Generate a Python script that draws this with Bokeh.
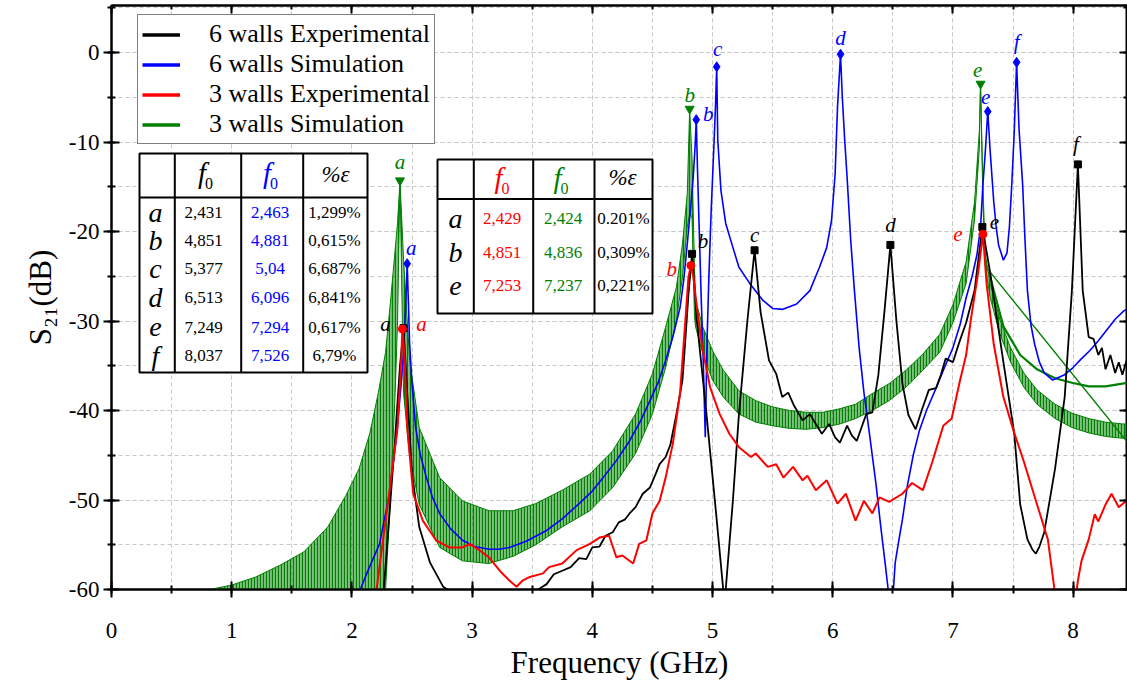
from bokeh.plotting import figure
from bokeh.models import (ColumnDataSource, Range1d, LinearAxis, SingleIntervalTicker,
                          Legend, LegendItem, CustomJSTickFormatter)
from bokeh.core.properties import value
from bokeh.embed import file_html
from bokeh.resources import INLINE

# ---------------- data ----------------
black_f = [2.26, 2.31, 2.36, 2.40, 2.43, 2.46, 2.50, 2.56, 2.65, 2.76, 2.85, 3.45, 3.55, 3.62, 3.68, 3.75,
           3.82, 3.89, 3.95, 4.00, 4.06, 4.11, 4.17, 4.22, 4.27, 4.31, 4.36, 4.42, 4.48, 4.53, 4.56, 4.61,
           4.65, 4.70, 4.75, 4.77, 4.80, 4.83, 4.87, 4.95, 5.03, 5.09, 5.11, 5.17, 5.22, 5.29, 5.35, 5.40,
           5.47, 5.53, 5.58, 5.63, 5.68, 5.75, 5.81, 5.86, 5.91, 5.97, 6.02, 6.06, 6.12, 6.16, 6.20, 6.25,
           6.28, 6.33, 6.38, 6.43, 6.48, 6.53, 6.58, 6.63, 6.69, 6.74, 6.80, 6.86, 6.90, 6.94, 7.00, 7.05,
           7.11, 7.18, 7.245, 7.31, 7.42, 7.51, 7.56, 7.62, 7.66, 7.69, 7.72, 7.76, 7.85, 7.93, 7.99, 8.04,
           8.08, 8.13, 8.17, 8.21, 8.24, 8.27, 8.31, 8.35, 8.38, 8.41, 8.45, 8.50]
black_db = [-61, -52, -43, -35, -30.8, -38, -47, -53, -57, -59.7, -60.5, -61, -60, -59.4, -58.3, -57.9,
            -57.5, -56.5, -56.6, -55.3, -55.2, -54, -53.6, -52.5, -52.2, -51.5, -50.8, -49.3, -48.6, -47, -46, -45.2,
            -43.8, -40.4, -36.6, -32.9, -27, -22.5, -30, -40.4, -51.5, -60.1, -60, -50, -40.4, -30, -22.1, -29,
            -34.4, -35.9, -38.5, -38, -39.5, -41.1, -40.4, -41.5, -42.6, -41.5, -43, -43.6, -41.7, -42.8, -43.4, -41.5,
            -40.4, -40.2, -36, -29, -21.5, -30, -37, -40.5, -42.1, -40, -37.7, -37.5, -36, -34.2, -34.6, -32.5,
            -30.2, -26.6, -19.5, -24.6, -34.6, -42.5, -50.5, -54.4, -55.5, -56.0, -55.2, -53.6, -46.5, -38.5, -26.6, -12.5,
            -26.6, -31.8, -32, -33.8, -33, -35.4, -33.8, -35.8, -34.6, -36, -34.2, -34.2]

blue_f = [2.04, 2.13, 2.23, 2.31, 2.37, 2.41, 2.43, 2.44, 2.45, 2.46, 2.47, 2.48, 2.50, 2.53, 2.57, 2.62,
          2.67, 2.73, 2.82, 2.92, 3.02, 3.14, 3.22, 3.31, 3.45, 3.62, 3.75, 3.89, 4.00, 4.09, 4.20, 4.31,
          4.40, 4.48, 4.55, 4.61, 4.67, 4.73, 4.76, 4.79, 4.82, 4.84, 4.855, 4.865, 4.875, 4.89, 4.905, 4.92,
          4.94, 4.955, 4.97, 4.99, 5.01, 5.025, 5.035, 5.044, 5.07, 5.11, 5.17, 5.22, 5.31, 5.42, 5.50, 5.585,
          5.70, 5.81, 5.89, 5.95, 5.99, 6.02, 6.04, 6.065, 6.08, 6.10, 6.12, 6.15, 6.18, 6.22, 6.26, 6.30,
          6.36, 6.40, 6.44, 6.47, 6.50, 6.52, 6.55, 6.58, 6.62, 6.67, 6.72, 6.78, 6.86, 6.93, 7.00, 7.06,
          7.11, 7.16, 7.20, 7.23, 7.25, 7.27, 7.29, 7.31, 7.34, 7.36, 7.38, 7.42, 7.45, 7.47, 7.49, 7.51,
          7.53, 7.55, 7.58, 7.60, 7.62, 7.65, 7.68, 7.72, 7.76, 7.83, 7.93, 8.00, 8.07, 8.14, 8.21, 8.28,
          8.35, 8.42, 8.50]
blue_db = [-61, -58, -54.9, -49.5, -43, -37, -33.5, -30.7, -27.5, -23.6, -28, -32.5, -37, -41.9, -45, -47.5,
           -49.7, -51.5, -53.2, -54.5, -55.2, -55.5, -55.5, -55.3, -54.6, -53.4, -52.1, -50.4, -49, -47.5, -45.6, -43.4,
           -41.2, -38.9, -36.8, -34.4, -31.8, -28.5, -25.5, -21.4, -17, -13.9, -10.5, -7.5, -13, -20, -27, -33,
           -43, -32, -25, -17.3, -11, -6, -1.6, -9.8, -15.4, -19.1, -21.8, -24, -25.8, -27.7, -28.6, -28.7,
           -28.1, -26.6, -24, -21.8, -18.8, -13.6, -6.1, -0.2, -5, -9.8, -14, -21, -26.5, -33, -38, -42,
           -48.2, -53, -57.5, -61, -61, -57, -54.5, -52.2, -48.5, -45, -42.3, -40, -37.5, -35.2, -33, -30.4,
           -27.4, -25, -22.6, -19.5, -14.7, -11, -6.6, -11, -16.7, -19.5, -21.5, -23.2, -22.4, -19.5, -14.7, -9,
           -1.1, -8.5, -14.7, -21, -26.6, -30.5, -32.6, -34.6, -35.8, -36.6, -36.0, -35.2, -34.2, -33.3, -32.2, -31,
           -29.8, -28.9, -28.2]

red_f = [2.20, 2.31, 2.38, 2.41, 2.42, 2.44, 2.46, 2.51, 2.59, 2.70, 2.81, 2.92, 2.98, 3.06, 3.14, 3.23,
         3.31, 3.37, 3.42, 3.48, 3.59, 3.64, 3.75, 3.87, 3.98, 4.06, 4.14, 4.20, 4.25, 4.34, 4.39, 4.45,
         4.50, 4.56, 4.61, 4.67, 4.73, 4.77, 4.80, 4.82, 4.84, 4.88, 4.92, 4.98, 5.06, 5.14, 5.22, 5.32,
         5.36, 5.46, 5.53, 5.59, 5.67, 5.75, 5.79, 5.86, 5.95, 6.04, 6.11, 6.19, 6.26, 6.33, 6.39, 6.47,
         6.58, 6.66, 6.75, 6.83, 6.92, 6.99, 7.06, 7.11, 7.15, 7.21, 7.25, 7.28, 7.34, 7.42, 7.51, 7.59,
         7.70, 7.79, 7.85, 8.02, 8.04, 8.07, 8.13, 8.18, 8.21, 8.27, 8.32, 8.38, 8.44, 8.50]
red_db = [-60.5, -49.3, -41.9, -34.4, -30.9, -34.4, -41.9, -49.3, -52.3, -54.5, -55.3, -55.3, -54.9, -55.6, -56.4, -57.9,
          -59, -59.7, -59, -58.6, -58.2, -57.5, -57.1, -55.6, -54.9, -54.2, -54, -56.4, -56.2, -57.1, -54.9, -54.5,
          -51.5, -50.1, -47.5, -43.7, -38.1, -30.7, -25.1, -23.8, -25, -29.6, -33.3, -37.4, -40.4, -42.6, -44.1, -45.2,
          -44.8, -46.3, -46, -47.5, -46.3, -47.8, -47.3, -48.9, -47.8, -50.4, -49.3, -52.3, -50.1, -51.5, -49.7, -50.2,
          -49.3, -48.1, -48.9, -45.7, -41.7, -40.9, -36.6, -33.8, -29.8, -24.6, -20.3, -25.8, -32.6, -38.5, -42.5, -45.7,
          -50.5, -54.4, -60.5, -61, -59, -56.8, -54.4, -51.6, -52.4, -50.5, -49.3, -50.8, -50.1, -49.3]

# 3 walls simulation: dense oscillation, drawn as a band between its envelopes
green_f = [0.82, 1.00, 1.20, 1.40, 1.60, 1.80, 1.95, 2.06, 2.15, 2.22, 2.28, 2.32, 2.36, 2.38, 2.40, 2.43,
           2.48, 2.56, 2.73, 2.92, 3.14, 3.34, 3.53, 3.75, 3.98, 4.17, 4.36, 4.50, 4.61, 4.70, 4.75, 4.79,
           4.81, 4.83, 4.85, 4.86, 4.92, 5.00, 5.09, 5.22, 5.36, 5.50, 5.64, 5.78, 5.92, 6.06, 6.19, 6.33,
           6.47, 6.61, 6.75, 6.89, 7.00, 7.11, 7.18, 7.22, 7.23, 7.25, 7.27, 7.31, 7.39, 7.48, 7.59, 7.70,
           7.85, 7.99, 8.13, 8.27, 8.41, 8.50]
green_hi = [-60, -59.5, -58.6, -57.3, -55.8, -53.0, -49.5, -46.5, -42.5, -38.0, -33.5, -28.0, -22.0, -19.0, -14.3, -23.2,
            -34.4, -41.9, -47.5, -50.1, -51.2, -51.2, -50.4, -48.9, -47.1, -44.5, -40.4, -35.9, -30.7, -26.2, -21.4, -15.8,
            -6.3, -12.0, -24.0, -27.7, -30.7, -33.3, -35.5, -37.8, -38.9, -39.6, -40.0, -40.2, -40.2, -39.8, -39.3, -38.1,
            -37.0, -35.5, -33.7, -31.5, -28.2, -23.4, -16.7, -8.7, -3.5, -15.0, -22.6, -25.8, -29.8, -33.0, -35.8, -37.7,
            -39.3, -40.3, -40.9, -41.3, -41.5, -41.5]
green_lo = [-60, -60, -60, -60, -60, -60, -60, -60, -60, -60, -60, -50, -38, -30, -14.3, -38.1,
            -45.0, -50.5, -55.3, -56.8, -57.1, -56.3, -55.0, -53.0, -51.2, -48.6, -44.8, -40.4, -35.2, -29.9, -25.1, -19.5,
            -18.0, -18.5, -29.5, -30.7, -33.7, -36.6, -38.5, -40.4, -41.3, -41.7, -42.0, -42.1, -41.9, -41.5, -40.9, -40.0,
            -38.9, -37.4, -35.5, -33.5, -30.2, -25.8, -18.7, -10.7, -3.5, -17.0, -24.0, -27.4, -31.4, -34.6, -37.4, -39.3,
            -40.9, -41.9, -42.5, -42.9, -43.1, -43.1]
green2_f = [7.30, 7.34, 7.42, 7.56, 7.70, 7.85, 7.99, 8.13, 8.27, 8.41, 8.50]
green2_db = [-24.5, -26.6, -30.6, -33.8, -35.4, -36.4, -36.9, -37.3, -37.3, -37.0, -36.8]
green3_f = [7.29, 8.45]
green3_db = [-24.2, -43.5]

# peaks (markers and their letters)
black_pk_f = [2.43, 4.83, 5.35, 6.48, 7.245, 8.04]
black_pk_db = [-30.8, -22.5, -22.1, -21.5, -19.5, -12.5]
black_pk_txt = ["a", "b", "c", "d", "e", "f"]
blue_pk_f = [2.46, 4.865, 5.035, 6.065, 7.29, 7.53]
blue_pk_db = [-23.6, -7.5, -1.6, -0.2, -6.6, -1.1]
blue_pk_txt = ["a", "b", "c", "d", "e", "f"]
red_pk_f = [2.42, 4.82, 7.25]
red_pk_db = [-30.9, -23.8, -20.3]
red_pk_txt = ["a", "b", "e"]
green_pk_f = [2.40, 4.81, 7.23]
green_pk_db = [-14.3, -6.3, -3.5]
green_pk_txt = ["a", "b", "e"]

# tables
t1_rows = ["a", "b", "c", "d", "e", "f"]
t1_exp6 = ["2,431", "4,851", "5,377", "6,513", "7,249", "8,037"]
t1_sim6 = ["2,463", "4,881", "5,04", "6,096", "7,294", "7,526"]
t1_err = ["1,299%", "0,615%", "6,687%", "6,841%", "0,617%", "6,79%"]
t2_rows = ["a", "b", "e"]
t2_exp3 = ["2,429", "4,851", "7,253"]
t2_sim3 = ["2,424", "4,836", "7,237"]
t2_err = ["0.201%", "0,309%", "0,221%"]

series_names = ["6 walls Experimental", "6 walls Simulation", "3 walls Experimental", "3 walls Simulation"]

# ---------------- styling / layout ----------------
BLACK, BLUE, RED, GREEN = "#000000", "#0000ff", "#ff0000", "#008000"
FONT = "Liberation Serif"
W, H = 1127, 686
FL, FR, FT, FB = 111, 1127, 5, 589
X0, X1 = 0.0, (FR - FL) / 120.2
Y0, Y1 = -60.0, -60.0 + (FB - FT) / 8.95


def X(px):
    return X0 + (px - FL) * (X1 - X0) / (FR - FL)


def Y(py):
    return Y1 - (py - FT) * (Y1 - Y0) / (FB - FT)


p = figure(width=W, height=H, x_range=Range1d(X0, X1), y_range=Range1d(Y0, Y1),
           output_backend="svg", toolbar_location=None,
           min_border_left=FL, min_border_right=0, min_border_top=FT, min_border_bottom=H - FB,
           x_axis_label="Frequency (GHz)", y_axis_label="S₂₁(dB)")
p.background_fill_color = "white"
p.border_fill_color = "white"
p.outline_line_color = "black"
p.outline_line_width = 2

xt = SingleIntervalTicker(interval=1, num_minor_ticks=2)
yt = SingleIntervalTicker(interval=10, num_minor_ticks=2)
p.xaxis.ticker = xt
p.yaxis.ticker = yt
p.xgrid.ticker = xt
p.ygrid.ticker = yt
for g in (p.xgrid, p.ygrid):
    g.grid_line_color = "#c8c8c8"
    g.grid_line_dash = "4 3"
    g.grid_line_width = 1
    g.minor_grid_line_color = "#c8c8c8"
    g.minor_grid_line_dash = "4 3"
    g.minor_grid_line_width = 1

plain = CustomJSTickFormatter(code="return tick.toFixed(0);")
for ax in (p.xaxis, p.yaxis):
    ax.formatter = plain
    ax.axis_line_width = 2
    ax.major_tick_line_width = 2
    ax.minor_tick_line_width = 2
    ax.major_tick_in = 8
    ax.major_tick_out = 8
    ax.minor_tick_in = 4
    ax.minor_tick_out = 4
    ax.major_label_text_font = FONT
    ax.major_label_text_font_size = "23px"
    ax.major_label_text_color = "black"
    ax.axis_label_text_font = FONT
    ax.axis_label_text_font_size = "31px"
    ax.axis_label_text_font_style = "normal"
    ax.axis_label_text_color = "black"
p.xaxis.major_label_standoff = 25
p.xaxis.axis_label_standoff = 4
p.yaxis.major_label_standoff = 4
p.yaxis.axis_label_standoff = 8

blank = CustomJSTickFormatter(code="return '';")
for loc, tk in (("above", xt), ("right", yt)):
    ax = LinearAxis(ticker=tk, formatter=blank, major_label_standoff=0,
                    major_tick_in=8, major_tick_out=0, minor_tick_in=4, minor_tick_out=0,
                    axis_line_width=2, major_tick_line_width=2, minor_tick_line_width=2)
    p.add_layout(ax, loc)

# ---------------- series ----------------
gsrc = ColumnDataSource(dict(f=green_f, hi=green_hi, lo=green_lo))
p.varea(x="f", y1="lo", y2="hi", source=gsrc, fill_color=GREEN, fill_alpha=0.5,
        hatch_pattern="|", hatch_color=GREEN, hatch_alpha=1.0, hatch_scale=3, hatch_weight=1.2)
p.line("f", "hi", source=gsrc, color=GREEN, line_width=1)
p.line("f", "lo", source=gsrc, color=GREEN, line_width=1)
p.line(green2_f, green2_db, color=GREEN, line_width=2.2)
p.line(green3_f, green3_db, color=GREEN, line_width=1.4)

p.line(blue_f, blue_db, color=BLUE, line_width=1.6)
p.line(black_f, black_db, color=BLACK, line_width=1.8)
p.line(red_f, red_db, color=RED, line_width=2)

# markers
p.scatter(black_pk_f, black_pk_db, marker="square", size=7, color=BLACK)
p.scatter(blue_pk_f, blue_pk_db, marker="diamond", size=10, color=BLUE)
p.scatter(red_pk_f, red_pk_db, marker="circle", size=8, color=RED)
p.scatter(green_pk_f, green_pk_db, marker="inverted_triangle", size=9, color=GREEN)

# peak letters
peak_sets = [
    (black_pk_f, black_pk_db, black_pk_txt, BLACK, [(-18, -4), (11, -13), (0, -15), (0, -20), (12, -5), (-2, -20)]),
    (blue_pk_f, blue_pk_db, blue_pk_txt, BLUE, [(4, -16), (12, -6), (1, -18), (0, -16), (-2, -15), (0, -20)]),
    (red_pk_f, red_pk_db, red_pk_txt, RED, [(19, -5), (-19, 3), (-25, 0)]),
    (green_pk_f, green_pk_db, green_pk_txt, GREEN, [(0, -18), (0, -14), (-3, -14)]),
]
for fx, fy, tx, col, offs in peak_sets:
    src = ColumnDataSource(dict(x=fx, y=fy, t=tx, dx=[o[0] for o in offs], dy=[o[1] for o in offs]))
    p.text("x", "y", text="t", x_offset="dx", y_offset="dy", source=src, text_color=col,
           text_font=value(FONT), text_font_style="italic", text_font_size="21px",
           text_align="center", text_baseline="middle")

# ---------------- tables ----------------
def draw_table(left, right, top, bottom, head_y, cols, row_x, row_ys, rows, cells, head):
    p.quad(left=[X(left)], right=[X(right)], top=[Y(top)], bottom=[Y(bottom)],
           fill_color="white", line_color="black", line_width=2)
    p.segment(x0=[X(c) for c in cols], y0=[Y(top)] * len(cols), x1=[X(c) for c in cols],
              y1=[Y(bottom)] * len(cols), line_color="black", line_width=2)
    p.segment(x0=[X(left)], y0=[Y(head_y)], x1=[X(right)], y1=[Y(head_y)], line_color="black", line_width=2)
    p.text([X(row_x)] * len(rows), [Y(r) for r in row_ys], text=rows, text_color="black",
           text_font=value(FONT), text_font_style="italic", text_font_size="28px",
           text_align="center", text_baseline="middle")
    for cx, vals, col in cells:
        p.text([X(cx)] * len(vals), [Y(r) for r in row_ys], text=vals, text_color=col,
               text_font=value(FONT), text_font_size="17px", text_align="center", text_baseline="middle")
    for hx, hy, col in head:
        p.text([X(hx)], [Y(hy)], text=["f"], text_color=col, text_font=value(FONT),
               text_font_style="italic", text_font_size="29px", text_align="center", text_baseline="middle")
        p.text([X(hx + 7)], [Y(hy + 11)], text=["0"], text_color=col, text_font=value(FONT),
               text_font_size="16px", text_align="center", text_baseline="middle")


draw_table(139, 367, 153, 372, 197, [174.3, 240.7, 302.7],
           155, [211.7, 240, 268.3, 296.7, 326.7, 355], t1_rows,
           [(203, t1_exp6, BLACK), (269.5, t1_sim6, BLUE), (334, t1_err, BLACK)],
           [(201.5, 172, BLACK), (266.5, 172, BLUE)])
p.text([X(335)], [Y(174)], text=["%ε"], text_color="black", text_font=value(FONT),
       text_font_style="italic", text_font_size="23px", text_align="center", text_baseline="middle")

draw_table(437, 652, 159, 313, 198.5, [473.3, 532.7, 594],
           455, [218, 251.7, 285], t2_rows,
           [(501.5, t2_exp3, RED), (562.5, t2_sim3, GREEN), (623, t2_err, BLACK)],
           [(498, 177, RED), (557, 177, GREEN)])
p.text([X(622)], [Y(177)], text=["%ε"], text_color="black", text_font=value(FONT),
       text_font_style="italic", text_font_size="23px", text_align="center", text_baseline="middle")

# ---------------- legend ----------------
nan = float("nan")
lg = [p.line(x=[nan, nan], y=[nan, nan], color=c, line_width=3.5) for c in (BLACK, BLUE, RED, GREEN)]
legend = Legend(items=[LegendItem(label=n, renderers=[r]) for n, r in zip(series_names, lg)],
                location=(26, FB - 144), orientation="vertical", margin=0, padding=4,
                spacing=0, glyph_width=38, glyph_height=27, label_height=27, label_standoff=29,
                label_text_font=FONT, label_text_font_size="26px", label_text_color="black",
                border_line_color="black", border_line_width=1.5,
                background_fill_color="white", background_fill_alpha=1.0)
p.add_layout(legend)

open("out.html", "w").write(file_html(p, INLINE))
